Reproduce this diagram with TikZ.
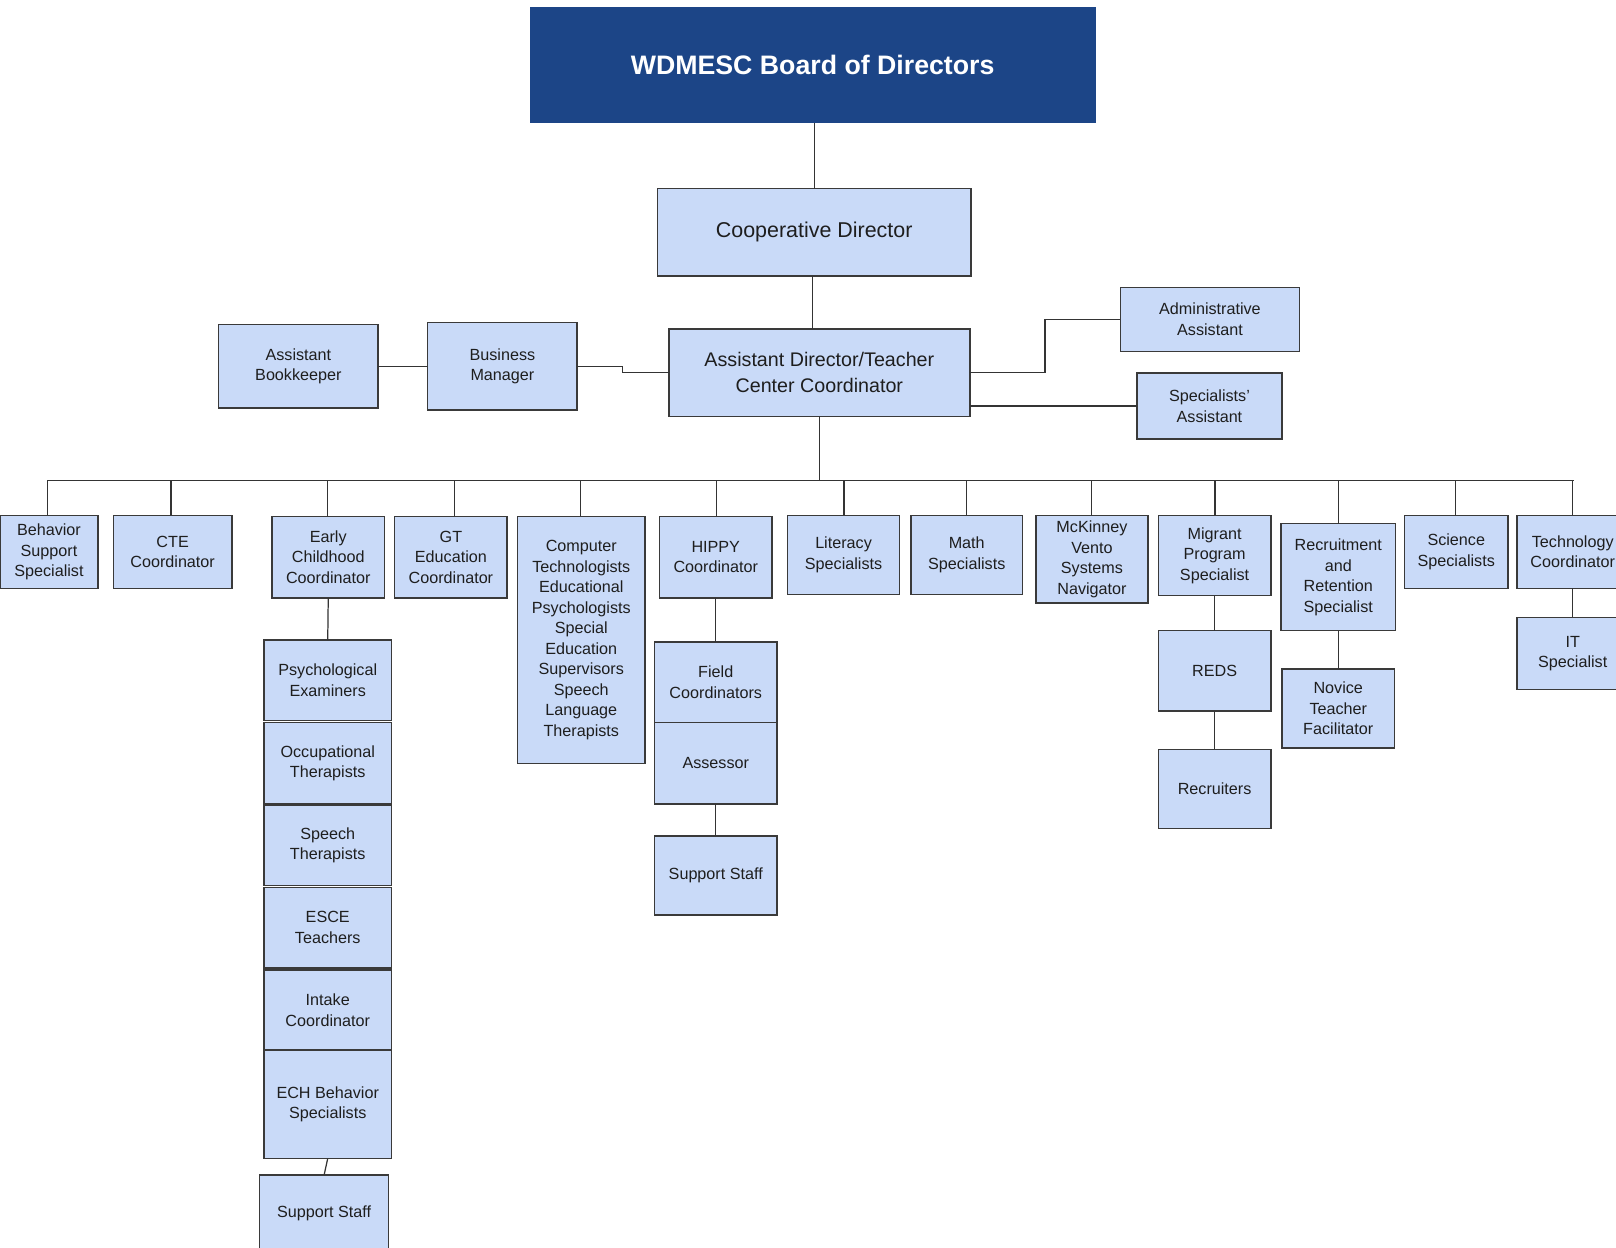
\documentclass[tikz,border=0pt]{standalone}
\usepackage{fontspec}
\setmainfont{Liberation Sans}
\definecolor{boxfill}{HTML}{C9DAF8}
\definecolor{boxline}{HTML}{3A3A3A}
\definecolor{boardfill}{HTML}{1C4587}
\definecolor{txt}{HTML}{1E1E1E}
\newcommand\bx[7][]{\node[box,#1, minimum width={(#4-#2)*0.5864pt}, minimum height={(#5-#3)*0.5864pt}] (#7) at ({(#2+#4)/2},{(#3+#5)/2}) {#6};}
\begin{document}
\begin{tikzpicture}[x=0.5864pt,y=-0.5864pt,
  box/.style={draw=boxline, fill=boxfill, line width=0.85pt, inner sep=0pt, outer sep=0pt,
    align=center, text=txt, font=\fontsize{9.2}{11.7}\selectfont},
  big/.style={font=\fontsize{12.2}{14.7}\selectfont},
  mid/.style={font=\fontsize{11.2}{14.7}\selectfont},
  board/.style={draw=none, fill=boardfill, text=white, font=\fontsize{15.2}{18}\selectfont\bfseries},
  link/.style={draw=boxline!90!black, line width=0.7pt}]
\useasboundingbox (0,0) rectangle (1568,1210);
\fill[white] (0,0) rectangle (1568,1210);
\clip (0,0) rectangle (1568,1210);

% top levels
\bx[board]{514}{7}{1063}{119}{WDMESC Board of Directors}{board}
\bx[big]{638}{183}{942}{268}{Cooperative Director}{coop}
\bx[mid]{649}{319}{941}{404}{Assistant Director/Teacher\\Center Coordinator}{ad}
\bx{212}{315}{367}{396}{Assistant\\Bookkeeper}{bk}
\bx{415}{313}{560}{398}{Business\\Manager}{bm}
\bx{1087}{279}{1261}{341}{Administrative\\Assistant}{adm}
\bx{1103}{362}{1244}{426}{Specialists'\\Assistant}{spa}

\draw[link] (coop.north) -- (coop.north |- board.south);
\draw[link] (coop.south -| 788,0) -- (ad.north -| 788,0);
\draw[link] (bk.east) -- (bm.west);
\draw[link] (bm.east) -- ++(44,0) |- (ad.west);
\draw[link] (ad.east) -- ++(73,0) |- (adm.west);
\draw[link] (spa.west) -- (spa.west -| ad.east);

% second row
\bx{0}{500}{95}{571}{Behavior\\Support\\Specialist}{bss}
\bx{110}{500}{225}{571}{CTE\\Coordinator}{cte}
\bx{264}{501}{373}{580}{Early\\Childhood\\Coordinator}{ecc}
\bx{383}{501}{492}{580}{GT\\Education\\Coordinator}{gt}
\bx{502}{501}{626}{741}{Computer\\Technologists\\Educational\\Psychologists\\Special\\Education\\Supervisors\\Speech\\Language\\Therapists}{ct}
\bx{640}{501}{749}{580}{HIPPY\\Coordinator}{hip}
\bx{764}{500}{873}{577}{Literacy\\Specialists}{lit}
\bx{884}{500}{992}{577}{Math\\Specialists}{math}
\bx{1005}{500}{1114}{585}{McKinney\\Vento\\Systems\\Navigator}{mck}
\bx{1124}{500}{1233}{578}{Migrant\\Program\\Specialist}{mig}
\bx{1243}{508}{1354}{612}{Recruitment\\and\\Retention\\Specialist}{rec}
\bx{1363}{500}{1463}{571}{Science\\Specialists}{sci}
\bx{1472}{500}{1580}{571}{Technology\\Coordinator}{tech}

\coordinate (busL) at (46,466);
\coordinate (busR) at (1527,466);
\draw[link] (busL) -- (busR);
\draw[link] (ad.south) -- (ad.south |- busL);
\foreach \n/\xx in {bss/46,cte/166,ecc/318,gt/441,ct/563,hip/695,lit/819,math/938,mck/1059,mig/1179,rec/1299,sci/1412,tech/1526}{
  \draw[link] (\n.north -| {\xx},0) -- (busL -| {\xx},0);
}

% Early childhood column
\bx{256}{621}{380}{699}{Psychological\\Examiners}{pe}
\bx{256}{701}{380}{780}{Occupational\\Therapists}{ot}
\bx{256}{781}{380}{859}{Speech\\Therapists}{st}
\bx{256}{861}{380}{939}{ESCE\\Teachers}{esce}
\bx{256}{941}{380}{1019}{Intake\\Coordinator}{ic}
\bx{256}{1019}{380}{1124}{ECH Behavior\\Specialists}{ech}
\bx{252}{1140}{377}{1215}{Support Staff}{ss1}
\draw[link] (ecc.south) -- (pe.north);
\draw[link] (ech.south) -- (ss1.north);

% HIPPY column
\bx{635}{623}{754}{701}{Field\\Coordinators}{fc}
\bx{635}{701}{754}{780}{Assessor}{as}
\bx{635}{811}{754}{888}{Support Staff}{ss2}
\draw[link] (hip.south) -- (fc.north);
\draw[link] (as.south) -- (ss2.north);

% Migrant column
\bx{1124}{612}{1233}{690}{REDS}{reds}
\bx{1124}{727}{1233}{804}{Recruiters}{rcr}
\draw[link] (mig.south) -- (reds.north);
\draw[link] (reds.south) -- (rcr.north);

% Recruitment
\bx{1244}{649}{1353}{726}{Novice\\Teacher\\Facilitator}{ntf}
\draw[link] (rec.south) -- (ntf.north);

% Technology
\bx{1472}{599}{1580}{669}{IT\\Specialist}{it}
\draw[link] (tech.south -| 1526,0) -- (it.north -| 1526,0);
\end{tikzpicture}
\end{document}
